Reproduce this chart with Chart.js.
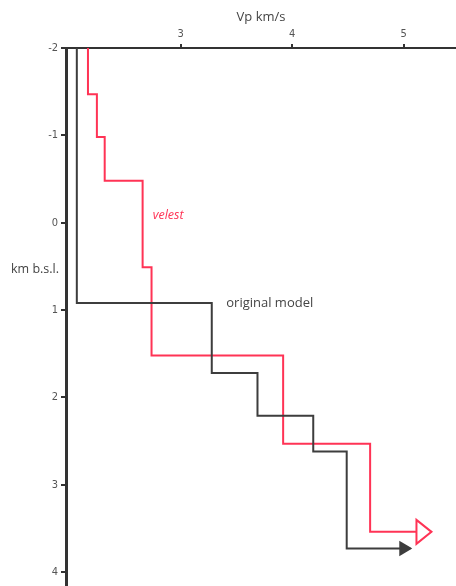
<!DOCTYPE html>
<html>
<head>
<meta charset="utf-8">
<script src="https://cdn.jsdelivr.net/npm/chart.js@4"></script>
<style>
  html, body { margin: 0; padding: 0; background: #fff; }
</style>
</head>
<body>
<canvas id="vpChart" width="456" height="586"></canvas>
<script>
// tick labels
const vpTicks = [3, 4, 5];
const depthTicks = [-2, -1, 0, 1, 2, 3, 4];

// original model: layer velocity and the depth where it starts (last value = arrow tip)
const originalVp = [2.07, 3.28, 3.69, 4.19, 4.49, 5.06];
const originalDepth = [-2, 0.92, 1.72, 2.21, 2.62, 3.73];

// velest result
const velestVp = [2.17, 2.25, 2.32, 2.66, 2.74, 3.92, 4.70, 5.25];
const velestDepth = [-2, -1.47, -0.98, -0.48, 0.51, 1.52, 2.53, 3.54];

const tickFont = "'Liberation Sans Narrow', 'DejaVu Sans Condensed', sans-serif";
const textFont = "'Open Sans', sans-serif";

// arrow at the end of each profile
const arrowPlugin = {
  id: "arrows",
  afterDatasetsDraw(chart) {
    const ctx = chart.ctx;
    chart.data.datasets.forEach((ds, i) => {
      const a = ds.arrow;
      if (!a) return;
      const pts = chart.getDatasetMeta(i).data;
      const p = pts[pts.length - 1];
      ctx.save();
      ctx.beginPath();
      ctx.moveTo(p.x, p.y);
      ctx.lineTo(p.x - a.len, p.y - a.half);
      ctx.lineTo(p.x - a.len, p.y + a.half);
      ctx.closePath();
      ctx.fillStyle = a.open ? "#ffffff" : ds.borderColor;
      ctx.fill();
      ctx.lineWidth = 2;
      ctx.lineJoin = "miter";
      ctx.strokeStyle = ds.borderColor;
      ctx.stroke();
      ctx.restore();
    });
  },
};

// text labels inside and beside the plot
const labelPlugin = {
  id: "labels",
  afterDraw(chart) {
    const ctx = chart.ctx;
    const xs = chart.scales.x;
    const ys = chart.scales.y;
    ctx.save();
    ctx.textBaseline = "middle";

    ctx.font = "italic 12.5px " + textFont;
    ctx.fillStyle = "#ff3355";
    ctx.textAlign = "left";
    ctx.fillText("velest", xs.getPixelForValue(2.75), ys.getPixelForValue(-0.08));

    ctx.font = "13px " + textFont;
    ctx.fillStyle = "#444";
    ctx.fillText("original model", xs.getPixelForValue(3.41), ys.getPixelForValue(0.92));

    ctx.font = "12.5px " + textFont;
    ctx.textAlign = "right";
    ctx.fillText("km b.s.l.", chart.chartArea.left - 7, ys.getPixelForValue(0.54));
    ctx.restore();
  },
};

const ctx = document.getElementById("vpChart").getContext("2d");
const config = {
  type: "line",
  data: {
    datasets: [
      {
        label: "original model",
        data: originalVp.map((v, i) => ({ x: v, y: originalDepth[i] })),
        stepped: "after",
        borderColor: "#3d3d3d",
        borderWidth: 2,
        pointRadius: 0,
        fill: false,
        arrow: { len: 10, half: 6, open: false },
      },
      {
        label: "velest",
        data: velestVp.map((v, i) => ({ x: v, y: velestDepth[i] })),
        stepped: "after",
        borderColor: "#ff3355",
        borderWidth: 2,
        pointRadius: 0,
        fill: false,
        arrow: { len: 15, half: 12, open: true },
      },
    ],
  },
  options: {
    responsive: false,
    animation: false,
    layout: { padding: 0 },
    plugins: {
      legend: { display: false },
      tooltip: { enabled: false },
    },
    scales: {
      x: {
        type: "linear",
        position: "top",
        min: 1.973,
        max: 5.47,
        afterBuildTicks: (s) => { s.ticks = vpTicks.map((v) => ({ value: v })); },
        afterFit: (s) => { s.height = 48; s.paddingLeft = 0; s.paddingRight = 0; },
        grid: { drawOnChartArea: false, drawTicks: true, tickLength: 4, color: "#333", lineWidth: 2 },
        border: { display: true, color: "#333", width: 2 },
        ticks: { color: "#555", padding: 3, font: { family: tickFont, size: 11 } },
        title: {
          display: true,
          text: "Vp km/s",
          color: "#444",
          font: { family: textFont, size: 13 },
          padding: { top: 9, bottom: 0 },
        },
      },
      y: {
        type: "linear",
        reverse: true,
        min: -2,
        max: 4.16,
        afterBuildTicks: (s) => { s.ticks = depthTicks.map((v) => ({ value: v })); },
        afterFit: (s) => { s.width = 66; s.paddingTop = 0; s.paddingBottom = 0; },
        grid: { drawOnChartArea: false, drawTicks: true, tickLength: 5, color: "#333", lineWidth: 2 },
        border: { display: true, color: "#333", width: 3 },
        ticks: { color: "#555", padding: 3, font: { family: tickFont, size: 11 } },
      },
    },
  },
  plugins: [arrowPlugin, labelPlugin],
};

const vpChart = new Chart(ctx, config);
</script>
</body>
</html>
